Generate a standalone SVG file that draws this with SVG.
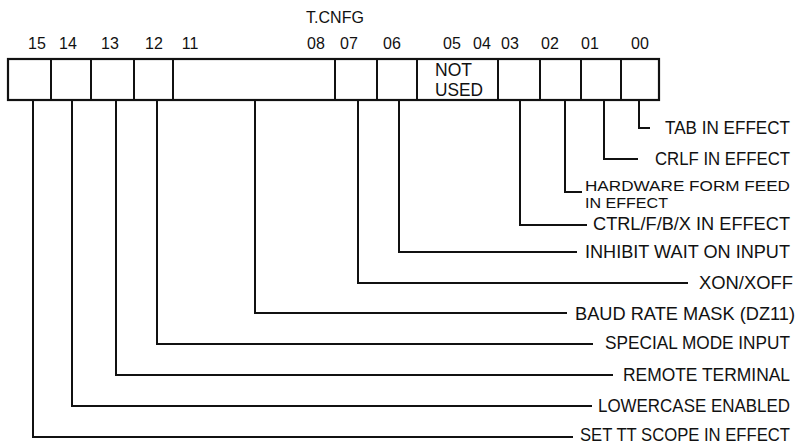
<svg xmlns="http://www.w3.org/2000/svg" width="800" height="447" viewBox="0 0 800 447">
<style>
text{font-family:"Liberation Sans",Arial,sans-serif;fill:#111;}
.bit{font-size:16px;text-anchor:middle;}
.lbl{font-size:17.5px;}
.box{fill:#fff;stroke:#111;stroke-width:2.2;}
.div{stroke:#111;stroke-width:2;}
.con{fill:none;stroke:#111;stroke-width:2;stroke-linejoin:miter;}
</style>
<rect width="800" height="447" fill="#fff"/>
<g id="header">
<text x="335" y="23" class="bit" font-size="15">T.CNFG</text>
<text x="37" y="49" class="bit">15</text>
<text x="68" y="49" class="bit">14</text>
<text x="110" y="49" class="bit">13</text>
<text x="154" y="49" class="bit">12</text>
<text x="190" y="49" class="bit">11</text>
<text x="316" y="49" class="bit">08</text>
<text x="349" y="49" class="bit">07</text>
<text x="392" y="49" class="bit">06</text>
<text x="452" y="49" class="bit">05</text>
<text x="482" y="49" class="bit">04</text>
<text x="510" y="49" class="bit">03</text>
<text x="550" y="49" class="bit">02</text>
<text x="590" y="49" class="bit">01</text>
<text x="640" y="49" class="bit">00</text>
</g>
<g id="register">
<rect class="box" x="8" y="59" width="651" height="41"/>
<g class="div">
<line x1="51" y1="59" x2="51" y2="100"/>
<line x1="91" y1="59" x2="91" y2="100"/>
<line x1="134" y1="59" x2="134" y2="100"/>
<line x1="173" y1="59" x2="173" y2="100"/>
<line x1="335" y1="59" x2="335" y2="100"/>
<line x1="377" y1="59" x2="377" y2="100"/>
<line x1="417" y1="59" x2="417" y2="100"/>
<line x1="498" y1="59" x2="498" y2="100"/>
<line x1="540" y1="59" x2="540" y2="100"/>
<line x1="581" y1="59" x2="581" y2="100"/>
<line x1="621" y1="59" x2="621" y2="100"/>
</g>
<text x="435" y="76" class="lbl" font-size="16.5" textLength="37" lengthAdjust="spacingAndGlyphs">NOT</text>
<text x="435" y="96" class="lbl" font-size="16.5" textLength="48" lengthAdjust="spacingAndGlyphs">USED</text>
</g>
<g id="connectors" class="con">
<polyline points="639,100 639,128 650,128"/>
<polyline points="604,100 604,159 638,159"/>
<polyline points="565,100 565,192 582,192"/>
<polyline points="520,100 520,225 587,225"/>
<polyline points="399,100 399,252 577,252"/>
<polyline points="358,100 358,283 688,283"/>
<polyline points="255,100 255,313 567,313"/>
<polyline points="157,100 157,344 593,344"/>
<polyline points="116,100 116,375 613,375"/>
<polyline points="72,100 72,406 592,406"/>
<polyline points="33,100 33,437 573,437"/>
</g>
<g id="labels" class="lbl">
<g id="b00"><text x="665" y="134" textLength="125" lengthAdjust="spacingAndGlyphs">TAB IN EFFECT</text></g>
<g id="b01"><text x="655" y="165" textLength="135" lengthAdjust="spacingAndGlyphs">CRLF IN EFFECT</text></g>
<g id="b02"><text x="585" y="191" font-size="15.5" textLength="205" lengthAdjust="spacingAndGlyphs">HARDWARE FORM FEED</text>
<text x="585" y="208" font-size="15.5" textLength="83" lengthAdjust="spacingAndGlyphs">IN EFFECT</text></g>
<g id="b03"><text x="593" y="230" textLength="197" lengthAdjust="spacingAndGlyphs">CTRL/F/B/X IN EFFECT</text></g>
<g id="b06"><text x="585" y="258" textLength="205" lengthAdjust="spacingAndGlyphs">INHIBIT WAIT ON INPUT</text></g>
<g id="b07"><text x="699" y="289" textLength="94" lengthAdjust="spacingAndGlyphs">XON/XOFF</text></g>
<g id="b11"><text x="575" y="320" textLength="220" lengthAdjust="spacingAndGlyphs">BAUD RATE MASK (DZ11)</text></g>
<g id="b12"><text x="605" y="349" textLength="185" lengthAdjust="spacingAndGlyphs">SPECIAL MODE INPUT</text></g>
<g id="b13"><text x="623" y="381" textLength="167" lengthAdjust="spacingAndGlyphs">REMOTE TERMINAL</text></g>
<g id="b14"><text x="598" y="412" textLength="192" lengthAdjust="spacingAndGlyphs">LOWERCASE ENABLED</text></g>
<g id="b15"><text x="580" y="441" textLength="210" lengthAdjust="spacingAndGlyphs">SET TT SCOPE IN EFFECT</text></g>
</g>
</svg>
